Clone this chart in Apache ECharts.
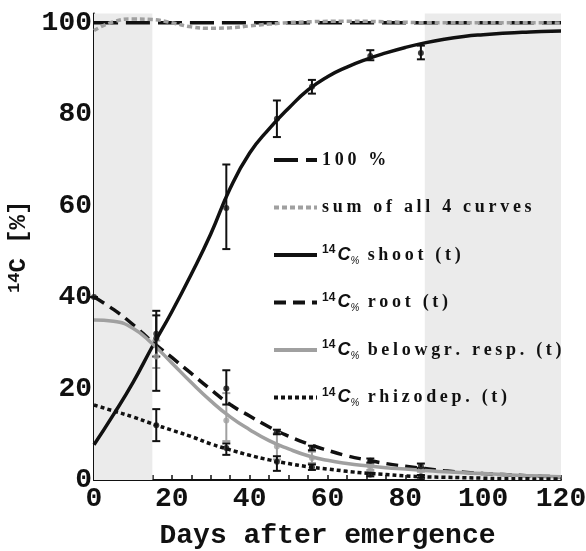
<!DOCTYPE html>
<html>
<head>
<meta charset="utf-8">
<script src="https://cdn.jsdelivr.net/npm/echarts@6/dist/echarts.min.js"></script>
<style>
html, body { margin: 0; padding: 0; background: #fff; }
#main { width: 586px; height: 551px; }
</style>
</head>
<body>
<div id="main"></div>
<script>
// days at which the model curves are read
var days = [0, 5, 10, 15, 20, 25, 30, 35, 40, 45, 50, 55, 60, 65, 70, 75, 80, 85, 90, 95, 100, 105, 110, 115, 120];
var hundred = [100, 100, 100, 100, 100, 100, 100, 100, 100, 100, 100, 100, 100, 100, 100, 100, 100, 100, 100, 100, 100, 100, 100, 100, 100];
var sumAll = [98.3, 100.2, 100.8, 100.7, 100, 99.1, 98.8, 98.9, 99.3, 99.7, 100, 100.2, 100.3, 100.3, 100.3, 100.2, 100.1, 100, 100, 100, 100, 100, 100, 100, 99.9];
var shoot = [7.7, 14.3, 21.3, 29.2, 36.8, 45, 53.8, 63.8, 71.5, 76.8, 81.3, 85.3, 88.2, 90.3, 92, 93.4, 94.6, 95.6, 96.4, 97, 97.4, 97.7, 97.9, 98.1, 98.2];
var root = [40, 37.3, 34, 30.2, 26.8, 23.3, 19.8, 16.5, 14, 11.6, 9.6, 7.9, 6.5, 5.3, 4.4, 3.6, 3, 2.5, 2, 1.7, 1.4, 1.2, 1, 0.8, 0.7];
var resp = [35, 34.7, 33.2, 29.8, 25.6, 21.3, 17.3, 13.8, 11, 8.6, 6.8, 5.3, 4.3, 3.6, 3.1, 2.7, 2.4, 2.1, 1.8, 1.6, 1.4, 1.2, 1, 0.9, 0.7];
var rhizo = [16.4, 15.1, 13.8, 12.3, 10.9, 9.5, 7.9, 6.6, 5.4, 4.4, 3.6, 2.9, 2.4, 1.9, 1.5, 1.2, 0.9, 0.7, 0.6, 0.5, 0.4, 0.3, 0.3, 0.2, 0.2];

// measured values: [day, mean, low, high]
var shootPts = [[16, 32, 27, 37], [34, 59.5, 50.5, 69], [47, 79, 75, 83], [56, 86, 84.5, 87.5], [71, 92.7, 91.8, 94], [84, 93.4, 92, 95]];
var rootPts = [[0, 40, 40, 40], [16, 31, 19.5, 36], [34, 20, 16.5, 24], [47, 10.5, 10, 11], [56, 7, 6.5, 7.5], [71, 4.2, 3.8, 4.7], [84, 3, 2.6, 3.6]];
var respPts = [[16, 27, 24.5, 30.5], [34, 13, 8.5, 19], [47, 7.3, 4.5, 10.3], [56, 4.8, 3.7, 6.2], [71, 2.8, 2.2, 3.4], [84, 2.2, 1.8, 2.6]];
var rhizoPts = [[16, 12, 8.5, 15.5], [34, 7, 5.5, 8], [47, 4, 2, 5.2], [56, 2.8, 2.2, 3.4], [71, 1.2, 0.8, 1.6], [84, 0.8, 0.5, 1.1]];

// grey bands (days)
var bands = [[0, 15], [85, 120]];

var yTicks = [0, 5, 10, 15, 20, 25, 30, 35, 40, 45, 50, 55, 60, 65, 70, 75, 80, 85, 90, 95, 100];
var yLabels = [0, 20, 40, 60, 80, 100];

var names = ['100 %', 'sum of all 4 curves', '14C% shoot (t)', '14C% root (t)', '14C% belowgr. resp. (t)', '14C% rhizodep. (t)'];

var grey = '#a0a0a0';

function pairs(ys) {
	var out = [];
	for (var i = 0; i < days.length; i++) {
		out.push([days[i], ys[i]]);
	}
	return out;
}

function curve(name, ys, color, dash, width) {
	return {
		name: name,
		type: 'line',
		data: pairs(ys),
		smooth: true,
		symbol: 'none',
		silent: true,
		lineStyle: { color: color, width: width, type: dash, cap: 'butt' },
		itemStyle: { color: color },
		z: 3
	};
}

function errBars(pts, color) {
	return {
		type: 'custom',
		data: pts,
		encode: { x: 0, y: [1, 2, 3] },
		z: 4,
		silent: true,
		renderItem: function (params, api) {
			var x = api.value(0);
			var lo = api.coord([x, api.value(2)]);
			var hi = api.coord([x, api.value(3)]);
			var w = 4;
			var st = { stroke: color, lineWidth: 2 };
			return {
				type: 'group',
				children: [
					{ type: 'line', shape: { x1: lo[0], y1: lo[1], x2: hi[0], y2: hi[1] }, style: st },
					{ type: 'line', shape: { x1: lo[0] - w, y1: lo[1], x2: lo[0] + w, y2: lo[1] }, style: st },
					{ type: 'line', shape: { x1: hi[0] - w, y1: hi[1], x2: hi[0] + w, y2: hi[1] }, style: st }
				]
			};
		}
	};
}

function dots(pts, color) {
	return {
		type: 'scatter',
		data: pts.map(function (p) { return [p[0], p[1]]; }),
		symbol: 'circle',
		symbolSize: 6,
		itemStyle: { color: color },
		silent: true,
		z: 5
	};
}

// legend text: spaced-out serif letters, with the 14C% prefix
function legendText(name) {
	var pre = '';
	var txt = name;
	if (name.indexOf('14C%') === 0) {
		pre = '{sup|14}{gap| }{c|C}{sub|%}{t| }';
		txt = name.slice(5);
	}
	return pre + txt.split('').map(function (ch) { return '{t|' + ch + '}'; }).join('');
}

var myChart = echarts.init(document.getElementById('main'));

var option = {
	animation: false,
	backgroundColor: '#fff',
	grid: { left: 94, right: 25, top: 13.6, bottom: 71, containLabel: false, outerBoundsMode: 'none' },
	legend: {
		data: names,
		orient: 'vertical',
		left: 267,
		top: 144,
		itemWidth: 43,
		itemHeight: 14,
		itemGap: 25.5,
		selectedMode: false,
		formatter: legendText,
		itemStyle: { opacity: 0 },
		lineStyle: { width: 4, cap: 'butt' },
		textStyle: {
			color: '#111',
			lineHeight: 22,
			rich: {
				t: { fontFamily: 'Liberation Serif', fontWeight: 'bold', fontSize: 18, color: '#111', padding: [0, 3.7, 0, 0], lineHeight: 22 },
				gap: { fontFamily: 'Liberation Sans', fontSize: 8, lineHeight: 22 },
				sup: { fontFamily: 'Liberation Sans', fontWeight: 'bold', fontSize: 12, color: '#111', verticalAlign: 'top', lineHeight: 22 },
				c: { fontFamily: 'Liberation Sans', fontStyle: 'italic', fontWeight: 'bold', fontSize: 18, color: '#111', lineHeight: 22 },
				sub: { fontFamily: 'Liberation Sans', fontStyle: 'italic', fontSize: 10, color: '#111', verticalAlign: 'bottom', lineHeight: 18 }
			}
		}
	},
	xAxis: {
		type: 'value',
		min: 0,
		max: 120,
		interval: 20,
		name: 'Days after emergence',
		nameLocation: 'middle',
		nameGap: 42,
		nameTextStyle: { fontFamily: 'Liberation Mono', fontWeight: 'bold', fontSize: 28, color: '#111' },
		axisLine: { show: true, onZero: false, lineStyle: { color: '#111', width: 2 } },
		axisTick: { show: true, inside: true, length: 5, customValues: days, lineStyle: { color: '#111', width: 1.5 } },
		axisLabel: { margin: 5, fontFamily: 'Liberation Mono', fontWeight: 'bold', fontSize: 28, color: '#111' },
		splitLine: { show: false }
	},
	yAxis: {
		type: 'value',
		min: 0,
		max: 102,
		name: '{sup|14}C [%]',
		nameLocation: 'middle',
		nameGap: 40,
		nameRotate: 90,
		nameTextStyle: {
			fontFamily: 'Liberation Mono', fontWeight: 'bold', fontSize: 24, color: '#111',
			rich: {
				sup: { fontFamily: 'Liberation Mono', fontWeight: 'bold', fontSize: 17, color: '#111', verticalAlign: 'top' }
			}
		},
		axisLine: { show: true, onZero: false, lineStyle: { color: '#111', width: 2 } },
		axisTick: { show: true, inside: true, length: 5, customValues: yTicks, lineStyle: { color: '#111', width: 1.5 } },
		axisLabel: { margin: 2, customValues: yLabels, fontFamily: 'Liberation Mono', fontWeight: 'bold', fontSize: 28, color: '#111' },
		splitLine: { show: false }
	},
	series: [
		{
			type: 'line',
			data: [],
			silent: true,
			markArea: {
				silent: true,
				itemStyle: { color: '#ebebeb' },
				data: bands.map(function (b) { return [{ xAxis: b[0] }, { xAxis: b[1] }]; })
			},
			z: 1
		},
		errBars(respPts, grey),
		errBars(shootPts, '#111'),
		errBars(rootPts, '#111'),
		errBars(rhizoPts, '#111'),
		dots(respPts, grey),
		dots(shootPts, '#111'),
		dots(rootPts, '#111'),
		dots(rhizoPts, '#111'),
		curve(names[0], hundred, '#111', [24, 8], 3.5),
		curve(names[2], shoot, '#111', 'solid', 3.5),
		curve(names[3], root, '#111', [12, 7], 3.5),
		curve(names[4], resp, grey, 'solid', 3.5),
		curve(names[5], rhizo, '#111', [4, 3], 3.5),
		curve(names[1], sumAll, grey, [5, 3], 3.5)
	]
};

myChart.setOption(option);
</script>
</body>
</html>
